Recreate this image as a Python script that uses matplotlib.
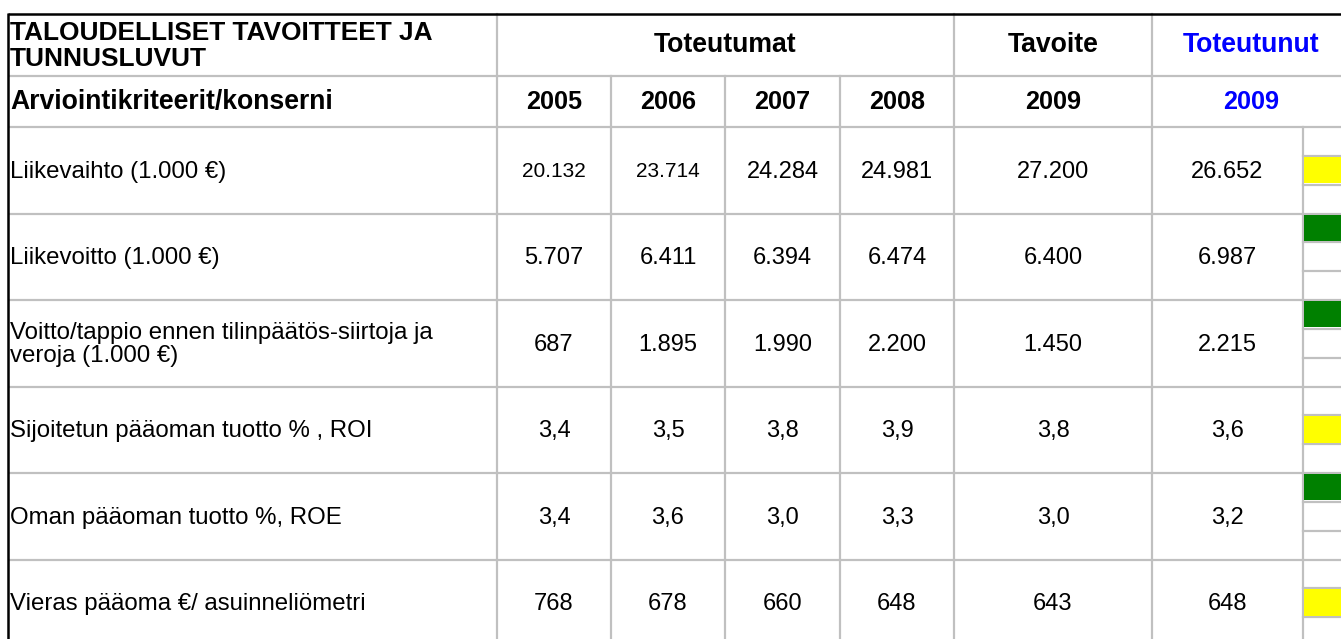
import matplotlib
matplotlib.use("Agg")
import matplotlib.pyplot as plt
from matplotlib.patches import Rectangle

plt.rcParams['font.family'] = ['Liberation Sans', 'DejaVu Sans']

# ---------------- data ----------------
title_lines = "TALOUDELLISET TAVOITTEET JA\nTUNNUSLUVUT"
subtitle = "Arviointikriteerit/konserni"
group_actual = "Toteutumat"
group_target = "Tavoite"
group_realised = "Toteutunut"
years_actual = ["2005", "2006", "2007", "2008"]
year_target = "2009"
year_realised = "2009"

row_labels = [
    "Liikevaihto (1.000 €)",
    "Liikevoitto (1.000 €)",
    "Voitto/tappio ennen tilinpäätös-siirtoja ja\nveroja (1.000 €)",
    "Sijoitetun pääoman tuotto % , ROI",
    "Oman pääoman tuotto %, ROE",
    "Vieras pääoma €/ asuinneliömetri",
]
val_2005 = [20132, 5707, 687, 3.4, 3.4, 768]
val_2006 = [23714, 6411, 1895, 3.5, 3.6, 678]
val_2007 = [24284, 6394, 1990, 3.8, 3.0, 660]
val_2008 = [24981, 6474, 2200, 3.9, 3.3, 648]
target_2009 = [27200, 6400, 1450, 3.8, 3.0, 643]
actual_2009 = [26652, 6987, 2215, 3.6, 3.2, 648]
decimals = [0, 0, 0, 1, 1, 0]
status = ["yellow", "green", "green", "yellow", "green", "yellow"]


def fi_fmt(v, d):
    if d == 0:
        s = f"{int(round(v)):,}".replace(",", ".")
    else:
        s = f"{v:.{d}f}".replace(".", ",")
    return s


# ---------------- layout (pixels) ----------------
W, H = 1341, 639
fig = plt.figure(figsize=(W / 100, H / 100), dpi=100)
ax = fig.add_axes([0, 0, 1, 1])
ax.set_xlim(0, W)
ax.set_ylim(H, 0)
ax.axis("off")

grey = "#c0c0c0"
lw_grey = 1.6

col_x = [8, 497, 611, 725, 840, 954, 1152, 1303]
right_edge = W + 5
y_top = 13.5
y_h1 = 75.5
y_h2 = 127
row_h = 86.5
n_rows = len(row_labels)
row_tops = [y_h2 + i * row_h for i in range(n_rows)]
y_bottom = H + 5

# horizontal grey lines
for y in [y_h1, y_h2] + row_tops[1:]:
    ax.plot([col_x[0], right_edge], [y, y], color=grey, lw=lw_grey, solid_capstyle="butt", zorder=1)

# vertical grey lines
ax.plot([col_x[1], col_x[1]], [y_top, y_bottom], color=grey, lw=lw_grey, zorder=1)
for x in col_x[2:5]:
    ax.plot([x, x], [y_h1, y_bottom], color=grey, lw=lw_grey, zorder=1)
ax.plot([col_x[5], col_x[5]], [y_top, y_bottom], color=grey, lw=lw_grey, zorder=1)
ax.plot([col_x[6], col_x[6]], [y_top, y_bottom], color=grey, lw=lw_grey, zorder=1)
ax.plot([col_x[7], col_x[7]], [y_h2, y_bottom], color=grey, lw=lw_grey, zorder=1)

# status column sub-cells
sub_pos = {"green": 0, "yellow": 1, "red": 2}
sub_col = {"green": "#008000", "yellow": "#ffff00", "red": "#ff0000"}
for i, top in enumerate(row_tops):
    sh = row_h / 3
    for k in (1, 2):
        ax.plot([col_x[7], right_edge], [top + k * sh, top + k * sh], color=grey, lw=lw_grey, zorder=1)
    k = sub_pos[status[i]]
    ax.add_patch(Rectangle((col_x[7] + 1.5, top + k * sh + 1), right_edge - col_x[7], sh - 2.5,
                           facecolor=sub_col[status[i]], edgecolor="none", zorder=2))

# black outer borders
ax.plot([col_x[0], right_edge], [y_top, y_top], color="black", lw=1.8, solid_capstyle="butt", zorder=3)
ax.plot([col_x[0], col_x[0]], [y_top - 0.8, y_bottom], color="black", lw=1.8, solid_capstyle="butt", zorder=3)

# ---------------- text ----------------
title_fs = 18.9
hdr_fs = 19.2
yr_fs = 18.2
lab_fs = 17.3
num_fs = 17
num_small_fs = 15
dy = 1.5

ax.text(10, (y_top + y_h1) / 2 + 1.5, title_lines, ha="left", va="center", fontsize=title_fs,
        fontweight="bold", linespacing=1.08)
ax.text(10, (y_h1 + y_h2) / 2 + 1, subtitle, ha="left", va="center", fontsize=hdr_fs, fontweight="bold")

ax.text((col_x[1] + col_x[5]) / 2, (y_top + y_h1) / 2 + 1, group_actual, ha="center", va="center",
        fontsize=hdr_fs, fontweight="bold")
ax.text((col_x[5] + col_x[6]) / 2, (y_top + y_h1) / 2 + 1, group_target, ha="center", va="center",
        fontsize=hdr_fs, fontweight="bold")
ax.text(1251, (y_top + y_h1) / 2 + 1, group_realised, ha="center", va="center",
        fontsize=hdr_fs, fontweight="bold", color="#0000ff")

for j, yr in enumerate(years_actual):
    ax.text((col_x[1 + j] + col_x[2 + j]) / 2, (y_h1 + y_h2) / 2 + 1, yr, ha="center", va="center",
            fontsize=yr_fs, fontweight="bold")
ax.text((col_x[5] + col_x[6]) / 2, (y_h1 + y_h2) / 2 + 1, year_target, ha="center", va="center",
        fontsize=yr_fs, fontweight="bold")
ax.text(1251, (y_h1 + y_h2) / 2 + 1, year_realised, ha="center", va="center",
        fontsize=yr_fs, fontweight="bold", color="#0000ff")

series = [val_2005, val_2006, val_2007, val_2008, target_2009, actual_2009]
for i, top in enumerate(row_tops):
    yc = top + row_h / 2 + dy
    ax.text(10, yc, row_labels[i], ha="left", va="center", fontsize=lab_fs, linespacing=1.05)
    for j, s in enumerate(series):
        xc = (col_x[1 + j] + col_x[2 + j]) / 2
        fs = num_small_fs if (i == 0 and j < 2) else num_fs
        ax.text(xc, yc, fi_fmt(s[i], decimals[i]), ha="center", va="center", fontsize=fs)

fig.savefig("out.png", dpi=100)
